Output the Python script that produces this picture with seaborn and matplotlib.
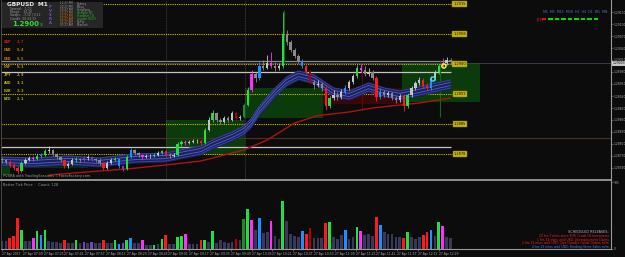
import numpy as np
import pandas as pd
import matplotlib
matplotlib.use("Agg")
import matplotlib.pyplot as plt
import seaborn as sns
from matplotlib.patches import Rectangle

sns.set_theme(style="dark")
plt.rcParams['font.family'] = ['DejaVu Sans']

# ---------------- data (GBPUSD M1, 3-minute groups) ----------------
first_open = 1.287625
closes = [
    1.28760, 1.28755, 1.287475, 1.28740, 1.287325, 1.287525, 1.28760, 1.28765, 1.287625, 1.28770,
    1.287725, 1.287825, 1.28785, 1.28775, 1.287675, 1.28760, 1.28745, 1.28750, 1.28760, 1.287625,
    1.28760, 1.28765, 1.287675, 1.287625, 1.28760, 1.287525, 1.28740, 1.287525, 1.28760, 1.287625,
    1.28745, 1.287375, 1.287675, 1.28785, 1.287775, 1.287725, 1.287675, 1.28770, 1.28770, 1.287725,
    1.287775, 1.287825, 1.287725, 1.28770, 1.287725, 1.28800, 1.28805, 1.288025, 1.28805, 1.288075,
    1.288075, 1.288025, 1.28835, 1.28860, 1.288775, 1.28860, 1.28855, 1.28865, 1.28860, 1.288775,
    1.28865, 1.288675, 1.288975, 1.28935, 1.28975, 1.28965, 1.28995, 1.28990, 1.290025, 1.28995,
    1.28990, 1.28995, 1.29075, 1.29055, 1.29035, 1.29020, 1.290075, 1.28995, 1.28980, 1.28955,
    1.289475, 1.28950, 1.28940, 1.28895, 1.28915, 1.289225, 1.289175, 1.28930, 1.28940, 1.28955,
    1.28970, 1.28990, 1.28985, 1.28975, 1.28980, 1.28965, 1.289175, 1.28930, 1.289225, 1.289275,
    1.28915, 1.28910, 1.28920, 1.28895, 1.289225, 1.28940, 1.289525, 1.28960, 1.28945, 1.28940,
    1.28965, 1.28980, 1.28995, 1.290025, 1.29010, 1.29005]
highs = [
    1.287675, 1.287625, 1.28760, 1.287525, 1.28745, 1.287575, 1.28765, 1.28770, 1.28770, 1.28775,
    1.287775, 1.287875, 1.28795, 1.287875, 1.287775, 1.28770, 1.287625, 1.28755, 1.28765, 1.287675,
    1.28765, 1.28770, 1.287725, 1.28770, 1.28765, 1.28765, 1.28755, 1.287575, 1.28765, 1.287675,
    1.28765, 1.287475, 1.287725, 1.28790, 1.287875, 1.28780, 1.28775, 1.28775, 1.28775, 1.287775,
    1.287825, 1.28785, 1.28785, 1.287775, 1.287775, 1.28805, 1.28810, 1.28810, 1.28810, 1.288125,
    1.288125, 1.28810, 1.28840, 1.288675, 1.28885, 1.28880, 1.28865, 1.28870, 1.28870, 1.288825,
    1.28880, 1.288725, 1.289025, 1.289425, 1.28985, 1.28980, 1.29005, 1.29010, 1.290225, 1.29030,
    1.29005, 1.290025, 1.29130, 1.29085, 1.29060, 1.29040, 1.29025, 1.290125, 1.29000, 1.28985,
    1.28960, 1.28960, 1.28955, 1.28945, 1.28920, 1.28935, 1.28930, 1.289375, 1.289475, 1.28960,
    1.28975, 1.289975, 1.29000, 1.28995, 1.28990, 1.28985, 1.28970, 1.28940, 1.28935, 1.289325,
    1.28930, 1.28920, 1.28925, 1.28925, 1.289275, 1.28945, 1.289575, 1.289675, 1.28965, 1.289525,
    1.28970, 1.28985, 1.29000, 1.29015, 1.290175, 1.29015]
lows = [
    1.287525, 1.28750, 1.287425, 1.28735, 1.28725, 1.28730, 1.28750, 1.287575, 1.287575, 1.28760,
    1.28765, 1.28770, 1.287775, 1.28770, 1.287625, 1.28755, 1.28740, 1.28740, 1.287475, 1.28755,
    1.28755, 1.287575, 1.28760, 1.287575, 1.28755, 1.287475, 1.28735, 1.287375, 1.28750, 1.287575,
    1.28740, 1.287325, 1.28735, 1.28765, 1.287725, 1.287675, 1.287625, 1.28765, 1.28765, 1.287675,
    1.28770, 1.28775, 1.287675, 1.28765, 1.287675, 1.28770, 1.28795, 1.287975, 1.28800, 1.288025,
    1.288025, 1.287975, 1.28800, 1.288325, 1.28855, 1.28855, 1.28850, 1.288525, 1.28855, 1.288575,
    1.28860, 1.28860, 1.28865, 1.28895, 1.28930, 1.28955, 1.28960, 1.28985, 1.289875, 1.28990,
    1.289825, 1.28985, 1.28990, 1.290475, 1.29030, 1.29015, 1.290025, 1.28990, 1.28975, 1.28950,
    1.289375, 1.289425, 1.289325, 1.28885, 1.28890, 1.28910, 1.28910, 1.289125, 1.28925, 1.28935,
    1.28950, 1.28965, 1.28980, 1.28970, 1.28970, 1.28960, 1.289075, 1.289125, 1.289175, 1.289175,
    1.28910, 1.289025, 1.28905, 1.288825, 1.28890, 1.289175, 1.28935, 1.289475, 1.28940, 1.28935,
    1.28935, 1.28960, 1.28975, 1.28990, 1.289975, 1.29000]
kinds = ("n n r r r g n n m g  b g n n n n r n n g  n p n p n n r n n g  "
         "b p g b n n m n n g  n g r n n g g m n n  n r g n g n n n n n  "
         "d n G g m n b n n m  n n g n n n n b r d  n n n r g n n n b n  "
         "n g m n n n r b n n  n n n r g n n n r r  b n g m n n").split()
volumes = [
    118, 118, 162, 191, 456, 279, 118, 118, 162, 265,
    206, 279, 118, 103, 103, 88, 132, 88, 88, 132,
    88, 103, 88, 103, 88, 88, 132, 88, 88, 132,
    74, 88, 132, 162, 88, 88, 132, 59, 59, 59,
    74, 147, 206, 74, 74, 176, 191, 221, 74, 74,
    74, 132, 132, 103, 265, 88, 132, 103, 88, 103,
    147, 132, 441, 588, 426, 279, 456, 235, 250, 412,
    191, 147, 706, 412, 221, 191, 176, 265, 221, 309,
    162, 162, 162, 382, 397, 176, 147, 206, 279, 147,
    176, 323, 265, 206, 221, 191, 470, 353, 250, 221,
    221, 176, 176, 162, 250, 176, 147, 176, 206, 250,
    279, 191, 397, 338, 176, 162]

band_idx = [0, 8, 17, 25, 34, 42, 47, 51, 54, 59, 62, 64, 66, 70, 73, 76, 80, 85, 89, 94, 98, 102, 108, 115]
band_mid = [1.287575, 1.28755, 1.28760, 1.28755, 1.28765, 1.287675, 1.287775, 1.28785, 1.28800, 1.28820,
            1.28835, 1.28855, 1.28885, 1.28930, 1.289575, 1.289725, 1.289625, 1.28930, 1.289225, 1.289425,
            1.28930, 1.289225, 1.28935, 1.28950]
band_half = 0.000125
ma_idx = [12, 25, 32, 42, 51, 62, 68, 75, 81, 89, 95, 102, 107, 115]
ma_price = [1.287225, 1.287325, 1.287375, 1.287475, 1.287575, 1.28785, 1.28810, 1.288525, 1.28871,
            1.28880, 1.28890, 1.288975, 1.289025, 1.28915]

levels = [1.2915, 1.29075, 1.2900, 1.28925, 1.2885, 1.28775]
level_labels = ["1.2915", "1.2908", "1.2900", "1.2893", "1.2885", "1.2878"]
# zones: (start bar, end bar, low price, high price, colour)
zones = [(-0.3, 22.0, 1.28740, 1.28760, '#0a2c0a'),
         (-0.3, 2.0, 1.28722, 1.28742, '#0d3a0d'),
         (42.05, 62.3, 1.287725, 1.28860, '#0b3a0b'),
         (62.3, 82.3, 1.28865, 1.28940, '#0b3a0b'),
         (82.3, 102.6, 1.28900, 1.28940, '#3a0707'),
         (102.6, 122.6, 1.28905, 1.290025, '#0b3a0b')]
price_ticks = [1.29130, 1.29100, 1.29070, 1.29040, 1.29010, 1.28980, 1.28950, 1.28920,
               1.28890, 1.28860, 1.28830, 1.28800, 1.28770, 1.28740]
last_price = 1.29003
time_labels = ["27 Apr 2017", "27 Apr 07:09", "27 Apr 07:25", "27 Apr 07:41", "27 Apr 07:57",
               "27 Apr 08:13", "27 Apr 08:29", "27 Apr 08:45", "27 Apr 09:01", "27 Apr 09:17",
               "27 Apr 09:33", "27 Apr 09:49", "27 Apr 10:05", "27 Apr 10:21", "27 Apr 10:37",
               "27 Apr 10:53", "27 Apr 11:09", "27 Apr 11:25", "27 Apr 11:41", "27 Apr 11:57",
               "27 Apr 12:13", "27 Apr 12:29"]
strength_ccy = ["GBP", "CAD", "USD", "CHF", "JPY", "AUD", "EUR", "NZD"]
strength_val = [2.7, 5.4, 5.5, 5.1, 2.9, 3.1, 3.3, 2.1]

# ---------------- figure ----------------
W, H = 625, 257
BG = '#0c0c0c'
fig = plt.figure(figsize=(W / 100, H / 100), dpi=100, facecolor=BG)
X0, X1 = -0.256, 156.15
ax = fig.add_axes([1 / W, 1 - 180 / H, 610 / W, 180 / H], facecolor=BG)
vax = fig.add_axes([1 / W, 1 - 249 / H, 610 / W, 68 / H], facecolor=BG)
P_TOP, P_BOT = 1.29160, 1.28710

def fx(x):
    return x / W

def fy(y):
    return 1 - y / H

def ftext(x, y, s, **kw):
    kw.setdefault('va', 'center')
    fig.text(fx(x), fy(y), s, **kw)

pal = {'n': '#38385a', 'r': '#ff1a1a', 'g': '#22dd44', 'b': '#1e8fff', 'm': '#ff30ff',
       'p': '#7b3fc4', 'd': '#b00000', 'G': '#1d8a2c'}

N = len(closes)
xs = np.arange(N)
opens = [first_open] + closes[:-1]

# zones
for (a, b, lo, hi, c) in zones:
    ax.add_patch(Rectangle((a, lo), b - a, hi - lo, facecolor=c, edgecolor='none', zorder=0.5))

# horizontal reference lines
ax.hlines(1.28815, X0, X1, color='#4a3222', lw=0.8, zorder=1)
ax.hlines([1.29008], X0, 115.6, color='#8a8a8a', lw=0.9, zorder=1)
ax.hlines([1.28980, 1.287925], X0, 115.0, color='#c4c4c4', lw=0.9, zorder=1)
ax.hlines(last_price, X0, X1, color='#3c4658', lw=0.6, zorder=1)
for lv, lab in zip(levels, level_labels):
    ax.hlines(lv, X0, 115.6, color='#c8c000', lw=0.8, linestyles=(0, (1, 1)), zorder=1.2)
    ax.text(117.4, lv, lab, ha='center', va='center', fontsize=2.6, color='#111111', zorder=6,
            bbox=dict(boxstyle='square,pad=0.3', fc='#c8b400', ec='#8a7a00', lw=0.3))

# vertical session lines
for vx in [42.05, 62.3]:
    ax.vlines(vx, P_BOT, P_TOP, color='#4c4c4c', lw=0.6, linestyles=(0, (1, 1)), zorder=1)
ax.vlines(72.3, 1.29005, 1.29135, color='#116a11', lw=0.8, zorder=1)
ax.vlines(112.3, 1.288675, 1.29010, color='#116a11', lw=0.8, zorder=1)
ax.vlines(92.3, 1.28885, 1.290025, color='#5a0a0a', lw=0.8, zorder=1)

# MA band
mid = np.array(band_mid)
ax.fill_between(band_idx, mid - band_half, mid + band_half, color='#1b2062', lw=0, zorder=2)
for off, c, lw in [(-0.0001, '#38449a', 0.7), (0.0001, '#38449a', 0.7),
                   (-0.00004, '#5664bb', 0.6), (0.00004, '#5664bb', 0.6)]:
    sns.lineplot(x=band_idx, y=mid + off, ax=ax, color=c, lw=lw, zorder=2.2)
sns.lineplot(x=ma_idx, y=ma_price, ax=ax, color='#b01212', lw=1.0, zorder=2.3)

# candles
def candle_color(k, o, c):
    if k == 'n':
        return '#c4c4c4' if c >= o else '#8a8a8a'
    return pal[k]

cc = [candle_color(k, o, c) for k, o, c in zip(kinds, opens, closes)]
ax.vlines(xs, lows, highs, colors=cc, lw=0.6, zorder=3)
bottoms = np.minimum(opens, closes)
heights = np.maximum(np.abs(np.array(closes) - np.array(opens)), 0.000012)
ax.bar(xs, heights, bottom=bottoms, width=0.6, color=cc, lw=0, edgecolor='none', zorder=3.1)

# signal circles
ax.scatter([113.3], [1.28995], s=9, facecolors='none', edgecolors='#ffff00', lw=1.0, zorder=5)
ax.scatter([110.5], [1.289625], s=9, facecolors='none', edgecolors='#40e0ff', lw=1.0, zorder=5)

ax.set_xlim(X0, X1)
ax.set_ylim(P_BOT, P_TOP)
ax.grid(False)
ax.set_xticks([])
ax.yaxis.tick_right()
ax.set_yticks(price_ticks)
ax.set_yticklabels([f"{p:.5f}" for p in price_ticks])
ax.tick_params(axis='y', labelsize=2.2, labelcolor='#a8a8a8', color='#909090', length=1.2,
               width=0.4, pad=0.5, right=True, left=False)
ax.spines['top'].set_visible(False)
ax.spines['right'].set_color('#9a9a9a'); ax.spines['right'].set_linewidth(0.8)
ax.spines['bottom'].set_color('#9a9a9a'); ax.spines['bottom'].set_linewidth(1.3)
ax.spines['left'].set_color('#505050'); ax.spines['left'].set_linewidth(0.6)

# ---------------- volume panel ----------------
vdf = pd.DataFrame({'bar': xs, 'volume': volumes, 'kind': kinds})
sns.barplot(data=vdf, x='bar', y='volume', hue='kind', palette=pal, dodge=False, width=0.7,
            saturation=1, legend=False, errorbar=None, linewidth=0, edgecolor='none', ax=vax)
vax.set_xlim(X0, X1)
vax.set_ylim(0, 1000)
vax.set_xlabel(''); vax.set_ylabel('')
vax.grid(False)
tick_pos = [k * 16 / 3 for k in range(len(time_labels))]
vax.set_xticks(tick_pos)
vax.set_xticklabels(time_labels, ha='left', fontsize=2.2, color='#a8a8a8')
vax.tick_params(axis='x', length=1.5, width=0.4, color='#909090', pad=0.6, bottom=True)
vax.yaxis.tick_right()
vax.set_yticks([985, 0])
vax.set_yticklabels(['985', '0'])
vax.tick_params(axis='y', labelsize=2.2, labelcolor='#a8a8a8', color='#909090', length=1.2,
                width=0.4, pad=0.5, right=True, left=False)
vax.spines['top'].set_visible(False)
vax.spines['left'].set_color('#505050'); vax.spines['left'].set_linewidth(0.6)
vax.spines['right'].set_color('#9a9a9a'); vax.spines['right'].set_linewidth(0.8)
vax.spines['bottom'].set_color('#9a9a9a'); vax.spines['bottom'].set_linewidth(0.8)

# ---------------- overlays / texts ----------------
ftext(612.3, 63.2, f"{last_price:.5f}", fontsize=2.2, color='#111111', ha='left',
      bbox=dict(boxstyle='square,pad=0.15', fc='#c8c8c8', ec='none'))
ftext(3, 176.5, "PVSRA with TradingSessions \u00a9ForexFactory.com", fontsize=2.6, color='#9a9a9a', ha='left')
ftext(3, 184.5, "Better Tick Price     Count: 128", fontsize=2.6, color='#9a9a9a', ha='left')

# info box
fig.add_artist(Rectangle((fx(2), fy(28)), 101 / W, 26 / H, transform=fig.transFigure,
                         facecolor='#262626', edgecolor='none', zorder=1))
ftext(7, 4.5, "GBPUSD  M1", fontsize=4.2, color='#e8e8e8', ha='left', weight='bold')
for k, s in enumerate(["Spread:   1.00", "Range:   34.10", "Swaps:  -3.30 | 0.12", "Candle: 00:02:33"]):
    ftext(10, 9 + 3.2 * k, s, fontsize=2.2, color='#9a9a9a', ha='left')
ftext(12, 24.5, "1.2900", fontsize=5.0, color='#33dd33', ha='left', weight='bold')
ftext(40, 25.3, "3", fontsize=3.2, color='#33dd33', ha='left')
ftext(50, 15, "P\nV\nS\nR\nA", fontsize=2.8, color='#6a56b0', ha='center', linespacing=0.95, weight='bold')
sessions = [("12:27 PM", "Sydney", '#9a9a9a', '#9a9a9a'),
            ("20:27 PM", "Tokyo", '#9a9a9a', '#9a9a9a'),
            ("19:27 PM", "HongKong", '#9a9a9a', '#9a9a9a'),
            ("13:27 PM", "Helsinki (0)", '#d07a10', '#2ec42e'),
            ("12:27 PM", "Frankfurt (1)", '#d07a10', '#2ec42e'),
            ("11:27 AM", "London (0:57)", '#d07a10', '#2ec42e'),
            ("07:27 AM", "Ny/Fin", '#d07a10', '#9a9a9a'),
            ("07:27 AM", "NewYork", '#9a9a9a', '#9a9a9a')]
for k, (t, nm, c1, c2) in enumerate(sessions):
    ftext(60, 3.5 + 3.05 * k, t, fontsize=2.0, color=c1, ha='left')
    ftext(77, 3.5 + 3.05 * k, nm, fontsize=2.0, color=c2, ha='left')

# currency strength table
ccy_colors = ['#e01818', '#d08a00', '#c88000', '#d09000', '#c0b400', '#c0b800', '#b8b800', '#a8b400']
for k, (cur, v, c) in enumerate(zip(strength_ccy, strength_val, ccy_colors)):
    yy = 42.3 + 8.15 * k
    ftext(4, yy, cur, fontsize=3.0, color=c, ha='left', family='DejaVu Sans Mono', weight='bold')
    ftext(17, yy, f"{v:.1f}", fontsize=3.0, color=c, ha='left', family='DejaVu Sans Mono', weight='bold')

# timeframe trend panel (top right)
ftext(543, 12, "M1  M5  M15  M30  H1  H4  D1  W1  MN", fontsize=2.3, color='#4a7ac0', ha='left')
ftext(537, 19, "[59]", fontsize=2.3, color='#c03030', ha='left')
dash_colors = ['#ff0000'] + ['#00dd00'] * 8
for k, c in enumerate(dash_colors):
    x = 544 + 6.5 * k
    fig.add_artist(Rectangle((fx(x - 2.2), fy(20)), 4.4 / W, 2 / H, transform=fig.transFigure,
                             facecolor=c, edgecolor='none', zorder=2))

# scheduled releases (bottom right)
ftext(609, 232, "SCHEDULED RELEASES:", fontsize=2.4, color='#b8b8b8', ha='right')
releases = [("23 hrs 7 mins since EUR: Crude Oil Inventories", '#ff2020'),
            ("1 hrs 51 mins until USD: Unemployment Claims", '#ff2020'),
            ("2 hrs 13 mins until USD: Core Durable Goods Orders m/m", '#ff2020'),
            ("4 hrs 23 mins until USD: Pending Home Sales m/m", '#3a8aff')]
for k, (s, c) in enumerate(releases):
    ftext(609, 236 + 3.7 * k, s, fontsize=2.2, color=c, ha='right')

fig.savefig("out.png", dpi=100, facecolor=BG)
